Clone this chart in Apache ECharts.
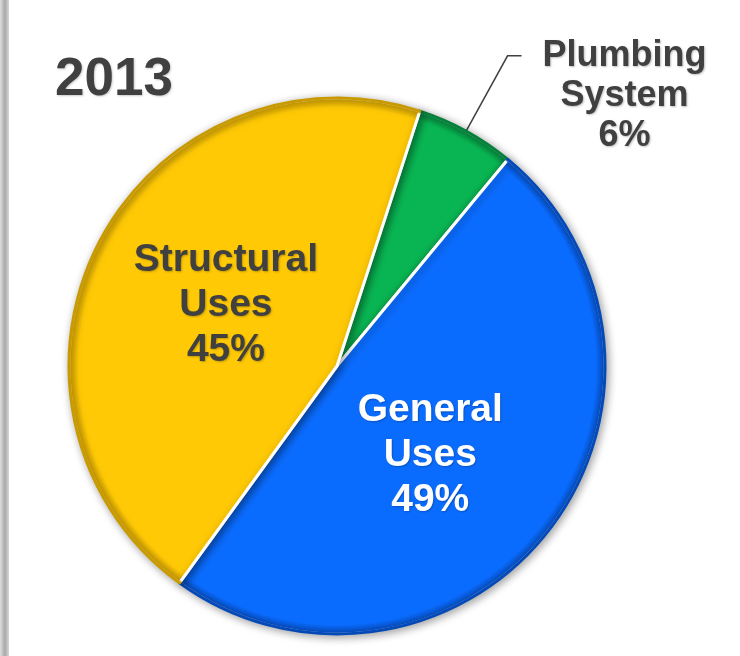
<!DOCTYPE html>
<html>
<head>
<meta charset="utf-8">
<script src="https://cdn.jsdelivr.net/npm/echarts@6/dist/echarts.min.js"></script>
<style>
html,body{margin:0;padding:0;background:#fff;}
#c{width:740px;height:656px;}
</style>
</head>
<body>
<div id="c"></div>
<script>
// ---- data ----
const categories = ['Plumbing\nSystem', 'General\nUses', 'Structural\nUses'];
const values = [6, 49, 45];
const colors = ['#08B552', '#0A6CFF', '#FFC905'];
const rimColors = ['#05803a', '#0449b8', '#c99a00'];
const titleText = '2013';

// ---- layout ----
const CX = 337, CY = 366, R = 268;
const FONT = '"Liberation Sans", Arial, sans-serif';
const DARK = '#404040';

function fill(i) {
  return {
    type: 'radial', x: CX, y: CY, r: R, global: true,
    colorStops: [
      {offset: 0, color: colors[i]},
      {offset: 0.965, color: colors[i]},
      {offset: 1, color: rimColors[i]}
    ]
  };
}
function border(i) {
  const rr = R + 3;
  return {
    type: 'radial', x: CX, y: CY, r: rr, global: true,
    colorStops: [
      {offset: 0, color: '#ffffff'},
      {offset: (R - 3) / rr, color: '#ffffff'},
      {offset: (R - 1) / rr, color: rimColors[i]},
      {offset: 1, color: rimColors[i]}
    ]
  };
}

const labelOffsets = [[0, 0], [-15, 5], [11, 1]];

const data = categories.map((name, i) => {
  const item = {name: name, value: values[i],
    itemStyle: {color: fill(i), borderColor: border(i)},
    label: {offset: labelOffsets[i]}};
  if (i === 0) {
    item.label = {
      position: 'outside',
      distanceToLabelLine: 21,
      padding: [80, 0, 0, 0],
      formatter: p => p.name.split('\n').map(s => '{a|' + s + '}').join('\n') + '\n{a|' + p.percent + '%}',
      rich: {
        a: {align: 'center', fontSize: 36, lineHeight: 40, fontWeight: 'bold', color: DARK, fontFamily: FONT,
            textShadowColor: 'rgba(0,0,0,0.25)', textShadowBlur: 2, textShadowOffsetX: 1, textShadowOffsetY: 1}
      }
    };
    item.labelLine = {show: true, length: 86, length2: 14, smooth: false,
      lineStyle: {color: DARK, width: 1.5}};
  } else if (i === 1) {
    item.label.color = '#ffffff';
  }
  return item;
});

const chart = echarts.init(document.getElementById('c'), null, {renderer: 'canvas'});
chart.setOption({
  backgroundColor: '#ffffff',
  animation: false,
  title: {
    text: titleText, left: 50, top: 49,
    textStyle: {fontSize: 53, fontWeight: 'bold', color: DARK, fontFamily: FONT,
      textShadowColor: 'rgba(0,0,0,0.2)', textShadowBlur: 2, textShadowOffsetX: 1, textShadowOffsetY: 1}
  },
  graphic: [{
    type: 'rect', left: 0, top: 0, shape: {width: 9, height: 656}, silent: true,
    style: {fill: {type: 'linear', x: 0, y: 0, x2: 1, y2: 0, colorStops: [
      {offset: 0, color: '#dedede'}, {offset: 0.55, color: '#a9a9a9'}, {offset: 1, color: '#d8d8d8'}]}}
  }],
  series: [{
    type: 'pie',
    center: [CX, CY],
    radius: R,
    startAngle: 72,
    clockwise: true,
    avoidLabelOverlap: false,
    data: data,
    itemStyle: {borderWidth: 3,
      shadowBlur: 8, shadowColor: 'rgba(0,0,0,0.35)', shadowOffsetX: 2, shadowOffsetY: 2},
    label: {
      show: true, position: 'inside',
      formatter: p => p.name + '\n' + p.percent + '%',
      fontSize: 39, lineHeight: 45, fontWeight: 'bold', color: DARK, fontFamily: FONT,
      textShadowColor: 'rgba(0,0,0,0.25)', textShadowBlur: 2, textShadowOffsetX: 1, textShadowOffsetY: 1
    },
    labelLine: {show: false},
    emphasis: {disabled: true}
  }]
});
</script>
</body>
</html>
